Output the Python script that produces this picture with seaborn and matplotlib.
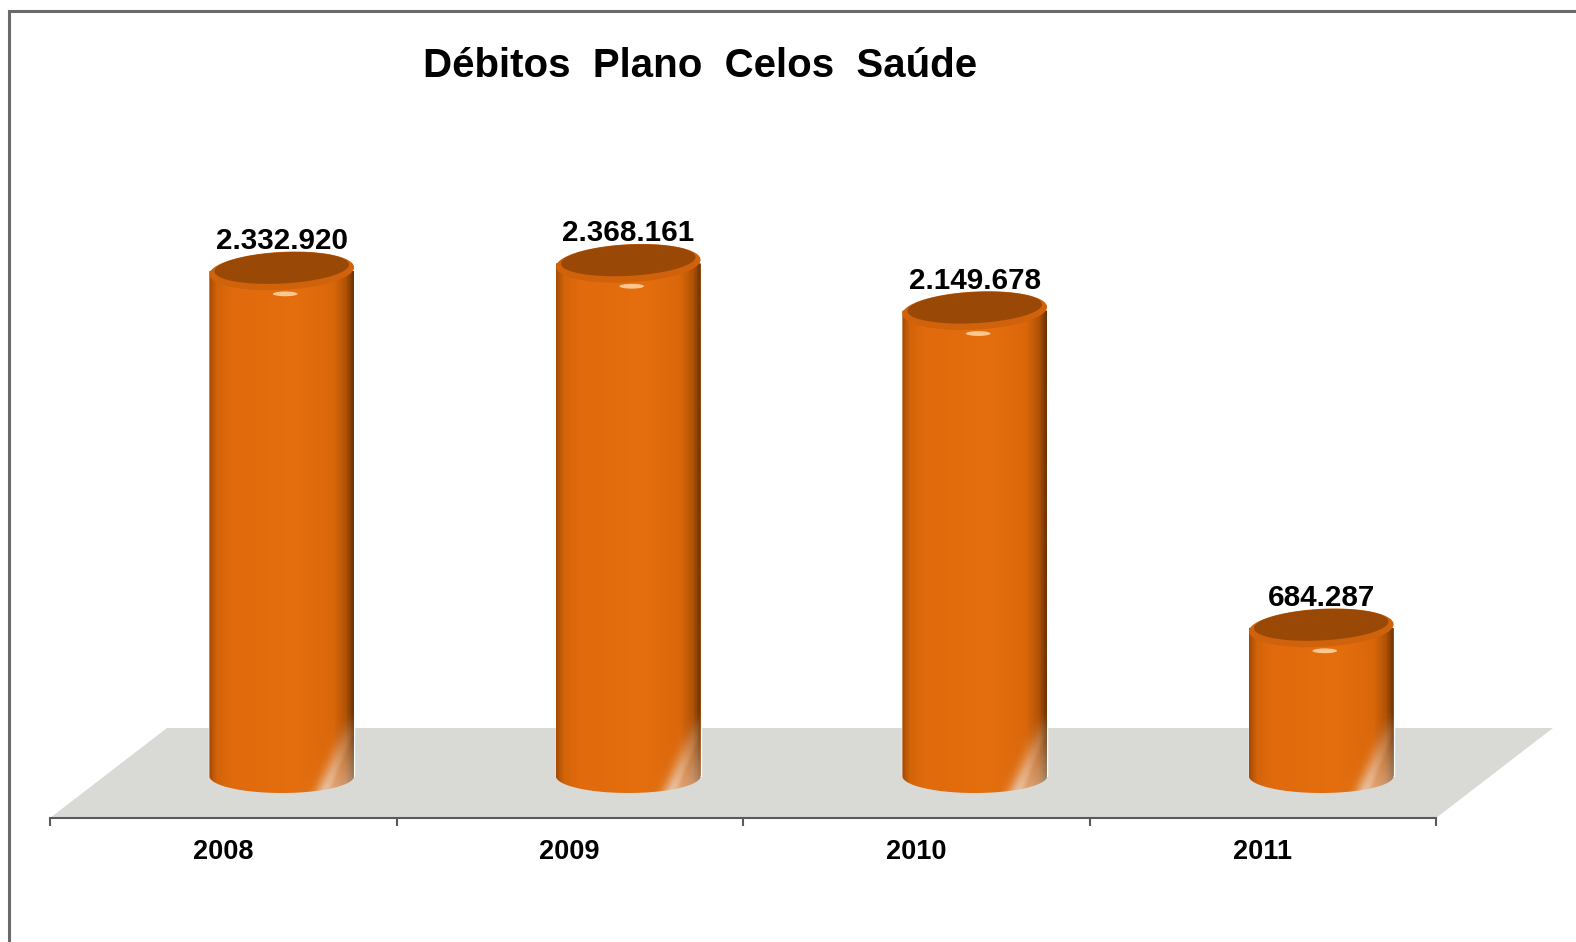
import numpy as np
import pandas as pd
import seaborn as sns
import matplotlib.pyplot as plt
from matplotlib.patches import Polygon, Rectangle, PathPatch, Ellipse
from matplotlib.path import Path
from matplotlib.colors import LinearSegmentedColormap, to_rgb

# dados do grafico
anos = ['2008', '2009', '2010', '2011']
debitos = [2332920, 2368161, 2149678, 684287]
titulo = 'Débitos  Plano  Celos  Saúde'

sns.set_style('white')
plt.rcParams['font.family'] = ['Liberation Sans', 'DejaVu Sans']
plt.rcParams['text.color'] = 'black'
plt.rcParams['xtick.color'] = 'black'

W, H = 1576, 942
fig = plt.figure(figsize=(W / 100, H / 100), dpi=100)

# chao cinza + eixo x
ax_chao = fig.add_axes([50 / W, (H - 818) / H, 1386 / W, 100 / H])
ax_chao.set_xlim(-0.5, 3.5)
ax_chao.set_ylim(0, 100)
prof = 117 / 346.5
ax_chao.add_patch(Polygon([(-0.5, 0), (-0.5 + prof, 90), (3.5 + prof, 90), (3.5, 0)],
                          closed=True, facecolor='#D9D9D5', edgecolor='none', clip_on=False))
for s in ['left', 'right', 'top']:
    ax_chao.spines[s].set_visible(False)
ax_chao.spines['bottom'].set_color('#5A5A5A')
ax_chao.spines['bottom'].set_linewidth(1.5)
ax_chao.set_xticks(range(len(anos)))
ax_chao.set_xticklabels(anos, fontsize=19.5, fontweight='bold', color='black')
ax_chao.set_xticks([-0.5, 0.5, 1.5, 2.5, 3.5], minor=True)
ax_chao.tick_params(axis='x', which='major', length=0, pad=15)
ax_chao.tick_params(axis='x', which='minor', length=6, width=1.5, color='#5A5A5A', direction='out', bottom=True)
ax_chao.set_yticks([])
ax_chao.patch.set_alpha(0)

# cilindros
ax = fig.add_axes([(50 + 58.5) / W, (H - 819.3) / H, 1386 / W, 692.8 / H])
df = pd.DataFrame({'ano': anos, 'debito': debitos})
sns.barplot(data=df, x='ano', y='debito', color='#E36C0C', width=0.418, saturation=1, ax=ax)
ax.set_xlim(-0.5, 3.5)
ax.set_ylim(-200000, 3000000)
ax.axis('off')

p0, p1 = ax.transData.transform([(0, 0), (0, 1e6)])
dy = (p1[1] - p0[1]) / 1e6          # pixels por unidade de valor
q0, q1 = ax.transData.transform([(0, 0), (1, 0)])
dx = q1[0] - q0[0]                   # pixels por categoria
ry = 17 / dy


def elipse(xc, yc, a, b, ang, dyc=0):
    # elipse em pixels (a, b, angulo) convertida para coordenadas de dados
    t = np.linspace(0, 2 * np.pi, 120)
    ex, ey = a * np.cos(t), b * np.sin(t)
    r = np.deg2rad(ang)
    px = ex * np.cos(r) - ey * np.sin(r)
    py = ex * np.sin(r) + ey * np.cos(r) + dyc
    return np.column_stack([xc + px / dx, yc + py / dy])


cmap = LinearSegmentedColormap.from_list('cil', [
    (0, '#A84C04'), (0.05, '#D2640A'), (0.15, '#E06A0C'), (0.6, '#E56F0E'),
    (0.86, '#DA670A'), (0.95, '#B05205'), (1, '#6E3404')])
branco = np.array(to_rgb('#EEE8E4'))

for p, v in zip(ax.patches, debitos):
    x0, w, h = p.get_x(), p.get_width(), p.get_height()
    xc = x0 + w / 2
    ncols = int(w * dx)
    nrows = int((h + ry) * dy)
    wpx = w * dx

    u = np.linspace(0, 1, ncols)
    img = np.tile(cmap(u)[None, :, :3], (nrows, 1, 1))
    d = np.arange(nrows)[:, None]
    uc = 0.80 + 0.20 * d / 70
    fade = np.clip(1 - d / 80, 0, 1)
    streak = np.exp(-((u[None, :] - uc) * ncols / 10) ** 2)
    alfa = np.maximum(streak * 0.7, (u[None, :] > uc) * 0.5) * fade
    img = img * (1 - alfa[..., None]) + branco * alfa[..., None]

    im = ax.imshow(img, extent=(x0, x0 + w, -ry, h), origin='lower', aspect='auto',
                   interpolation='bilinear', zorder=2)
    t = np.linspace(np.pi, 2 * np.pi, 60)
    verts = [(x0, h), (x0, 0)] + list(zip(xc + w / 2 * np.cos(t), ry * np.sin(t))) + [(x0 + w, h), (x0, h)]
    codes = [Path.MOVETO] + [Path.LINETO] * (len(verts) - 2) + [Path.CLOSEPOLY]
    clip = PathPatch(Path(verts, codes), transform=ax.transData, facecolor='none', edgecolor='none')
    ax.add_patch(clip)
    im.set_clip_path(clip)

    # topo inclinado
    ax.add_patch(Polygon(elipse(xc, h, wpx / 2, 19, 3), closed=True, facecolor='#CF620A',
                         edgecolor='none', zorder=3))
    ax.add_patch(Polygon(elipse(xc, h, wpx / 2 * 0.93, 19 * 0.82, 3, dyc=3), closed=True,
                         facecolor='#9A4806', edgecolor='none', zorder=4))
    ax.add_patch(Ellipse((xc + 0.01, h - 1.35 * ry), w * 0.17, ry * 0.28, facecolor='#FFD9A8',
                         edgecolor='none', alpha=0.85, zorder=4))

    rotulo = f'{v:,}'.replace(',', '.')
    ax.annotate(rotulo, (xc, h), xytext=(0, 21.6), textcoords='offset points',
                ha='center', va='center', fontsize=21.3, fontweight='bold', color='black', zorder=5)

fig.text(700 / W, 1 - 66 / H, titulo, ha='center', va='center', fontsize=29,
         fontweight='bold', color='black')

fig.add_artist(Rectangle((8.5 / W, -0.05), 1.1, 1 - 10.5 / H + 0.05, transform=fig.transFigure,
                         fill=False, edgecolor='#6A6A6A', lw=2.2))

fig.savefig('out.png', dpi=100)
